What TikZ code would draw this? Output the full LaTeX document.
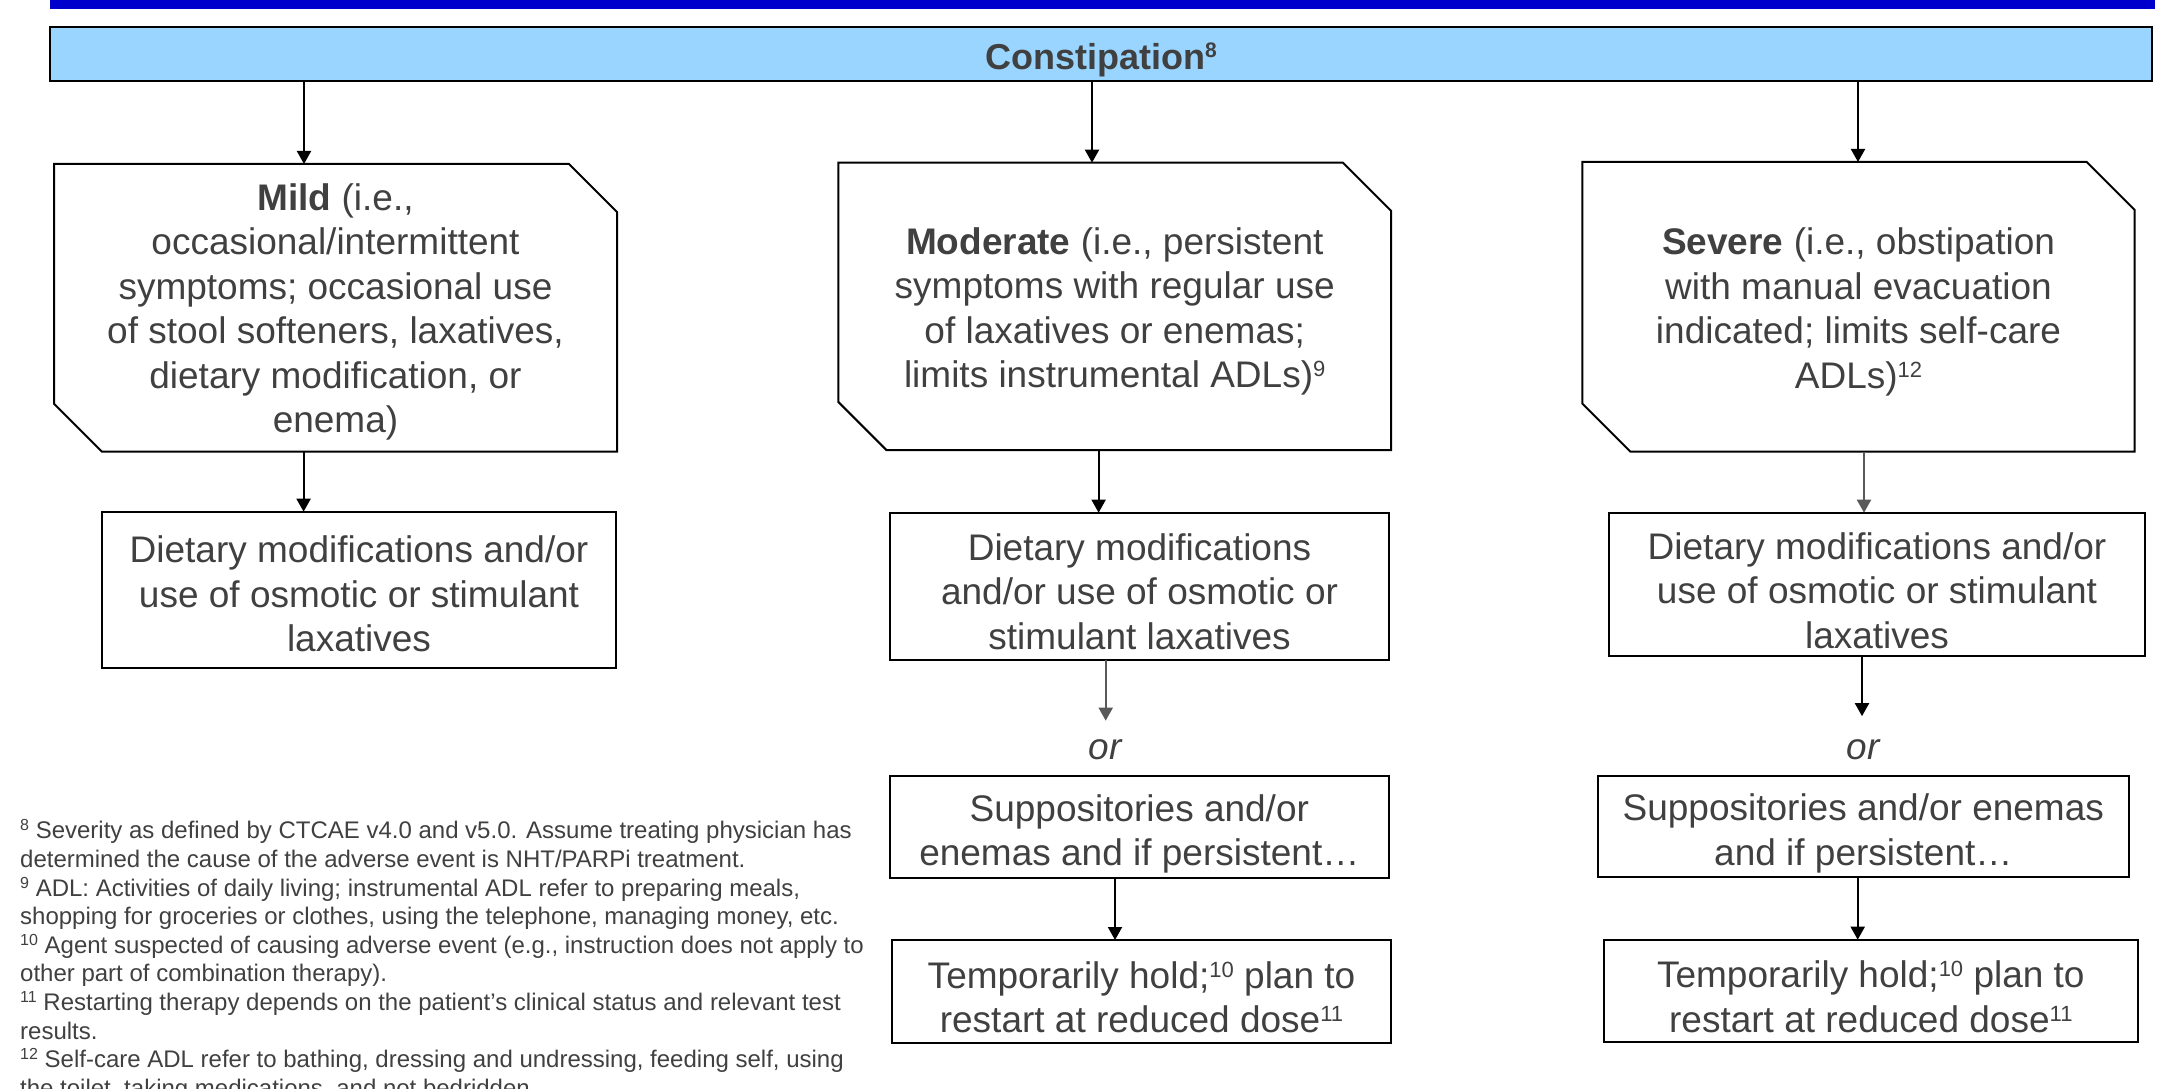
\documentclass[tikz,border=0pt]{standalone}
\usepackage{fontspec}
\setmainfont{Liberation Sans}
\usetikzlibrary{arrows.meta}
\definecolor{txt}{RGB}{64,64,64}
\definecolor{band}{RGB}{0,0,204}
\definecolor{barfill}{RGB}{153,213,255}
\definecolor{darr}{RGB}{89,89,89}
\newcommand\bsup[1]{\raisebox{11pt}{\fontsize{22}{22}\selectfont #1}}
\newcommand\fsup[1]{\raisebox{8pt}{\fontsize{16}{16}\selectfont #1}}
\newcommand\hsup[1]{\raisebox{12pt}{\fontsize{21}{21}\selectfont\bfseries #1}}
\begin{document}
\begin{tikzpicture}[x=1pt,y=1pt,
  boxtext/.style={font=\fontsize{37}{44.5}\selectfont, text=txt, align=center, inner sep=0pt, outer sep=0pt},
  plainbox/.style={draw=black, line width=2pt, inner sep=0pt, outer sep=0pt},
  snipbox/.style={inner sep=0pt, outer sep=0pt},
  snipline/.style={draw=black, line width=2pt, line join=miter},
  arr/.style={line width=2pt, draw=black, -{Triangle[length=13pt,width=14pt]}},
  garr/.style={line width=2pt, draw=darr, -{Triangle[length=13pt,width=14pt,fill=darr]}},
  ortext/.style={font=\fontsize{37}{44}\selectfont\itshape, text=txt, inner sep=0pt},
  headbar/.style={fill=barfill, draw=black, line width=2pt, inner sep=0pt},
  headtext/.style={text=txt, inner sep=0pt, font=\fontsize{36}{40}\selectfont\bfseries},
  foot/.style={font=\fontsize{24}{28.6}\selectfont, text=txt, align=left, inner sep=0pt}
]
\useasboundingbox (0,0) rectangle (2166,-1089);
\begin{scope}
\clip (0,0) rectangle (2166,-1089);
\fill[band] (50,0) rectangle (2155,-9);

\node[headbar, minimum width=2102pt, minimum height=54pt] (bar) at (1101,-54.4) {};
\node[headtext] (bartext) at ([yshift=-6pt]bar.center) {Constipation\hsup{8}};

% severity boxes (snipped corners)
\node[snipbox, minimum width=563pt, minimum height=287.7pt] (mild) at (335.5,-307.85) {};
\node[snipbox, minimum width=552.6pt, minimum height=287.3pt] (mod) at (1114.7,-306.35) {};
\node[snipbox, minimum width=552.3pt, minimum height=289.7pt] (sev) at (1858.5,-306.85) {};
\foreach \b in {mild,mod,sev}{
  \draw[snipline] (\b.north west) -- ([xshift=-48pt]\b.north east) -- ([yshift=-48pt]\b.north east)
    -- (\b.south east) -- ([xshift=48pt]\b.south west) -- ([yshift=48pt]\b.south west) -- cycle;
}
\node[boxtext] (mildt) at ([yshift=-4pt]mild.center)
  {\textbf{Mild} (i.e.,\\occasional/intermittent\\symptoms; occasional use\\of stool softeners, laxatives,\\dietary modification, or\\enema)};
\node[boxtext] (modt) at ([yshift=-5pt]mod.center)
  {\textbf{Moderate} (i.e., persistent\\symptoms with regular use\\of laxatives or enemas;\\limits instrumental ADLs)\bsup{9}};
\node[boxtext] (sevt) at ([yshift=-5pt]sev.center)
  {\textbf{Severe} (i.e., obstipation\\with manual evacuation\\indicated; limits self-care\\ADLs)\bsup{12}};

% second row
\node[plainbox, minimum width=514pt, minimum height=156.3pt] (mild2) at (359,-589.85) {};
\node[plainbox, minimum width=499pt, minimum height=147.3pt] (mod2) at (1139.5,-586.35) {};
\node[plainbox, minimum width=536pt, minimum height=143.3pt] (sev2) at (1877,-584.35) {};
\node[boxtext] (mild2t) at ([yshift=-4pt]mild2.center)
  {Dietary modifications and/or\\use of osmotic or stimulant\\laxatives};
\node[boxtext] (mod2t) at ([yshift=-5pt]mod2.center)
  {Dietary modifications\\and/or use of osmotic or\\stimulant laxatives};
\node[boxtext] (sev2t) at ([yshift=-6pt]sev2.center)
  {Dietary modifications and/or\\use of osmotic or stimulant\\laxatives};

% or labels
\node[ortext] (ormod) at (1105,-750) {or};
\node[ortext] (orsev) at (1863,-750) {or};

% third row
\node[plainbox, minimum width=499.4pt, minimum height=102pt] (mod3) at (1139.3,-827) {};
\node[plainbox, minimum width=531.4pt, minimum height=101.3pt] (sev3) at (1863.3,-826.65) {};
\node[boxtext] (mod3t) at ([yshift=-7pt]mod3.center)
  {Suppositories and/or\\enemas and if persistent…};
\node[boxtext] (sev3t) at ([yshift=-7pt]sev3.center)
  {Suppositories and/or enemas\\and if persistent…};

% fourth row
\node[plainbox, minimum width=499pt, minimum height=102.7pt] (mod4) at (1141.5,-991.35) {};
\node[plainbox, minimum width=534.4pt, minimum height=102.3pt] (sev4) at (1870.8,-990.85) {};
\node[boxtext] (mod4t) at ([yshift=-6pt]mod4.center)
  {Temporarily hold;\bsup{10} plan to\\restart at reduced dose\bsup{11}};
\node[boxtext] (sev4t) at ([yshift=-6pt]sev4.center)
  {Temporarily hold;\bsup{10} plan to\\restart at reduced dose\bsup{11}};

% connector x positions
\coordinate (xa1) at (304,0);
\coordinate (xa2) at (303.6,0);
\coordinate (xb1) at (1092,0);
\coordinate (xb2) at (1098.6,0);
\coordinate (xb3) at (1105.7,0);
\coordinate (xb4) at (1115,0);
\coordinate (xc1) at (1858,0);
\coordinate (xc2) at (1864,0);
\coordinate (xc3) at (1862,0);
\coordinate (xc4) at (1857.7,0);

\draw[arr] (bar.south -| xa1) -- (mild.north -| xa1);
\draw[arr] (bar.south -| xb1) -- (mod.north -| xb1);
\draw[arr] (bar.south -| xc1) -- (sev.north -| xc1);

\draw[arr] (mild.south -| xa2) -- (mild2.north -| xa2);
\draw[arr] (mod.south -| xb2) -- (mod2.north -| xb2);
\draw[garr] (sev.south -| xc2) -- (sev2.north -| xc2);

\draw[garr, shorten >=19pt] (mod2.south -| xb3) -- (ormod.north -| xb3);
\draw[arr, shorten >=23.5pt] (sev2.south -| xc3) -- (orsev.north -| xc3);

\draw[arr] (mod3.south -| xb4) -- (mod4.north -| xb4);
\draw[arr] (sev3.south -| xc4) -- (sev4.north -| xc4);

% footnotes
\node[foot, anchor=north west] (notes) at (20,-819.5) {%
\fsup{8} Severity as defined by CTCAE v4.0 and v5.0. Assume treating physician has\\
determined the cause of the adverse event is NHT/PARPi treatment.\\
\fsup{9} ADL: Activities of daily living; instrumental ADL refer to preparing meals,\\
shopping for groceries or clothes, using the telephone, managing money, etc.\\
\fsup{10} Agent suspected of causing adverse event (e.g., instruction does not apply to\\
other part of combination therapy).\\
\fsup{11} Restarting therapy depends on the patient’s clinical status and relevant test\\
results.\\
\fsup{12} Self-care ADL refer to bathing, dressing and undressing, feeding self, using\\
the toilet, taking medications, and not bedridden.};
\end{scope}
\end{tikzpicture}
\end{document}
